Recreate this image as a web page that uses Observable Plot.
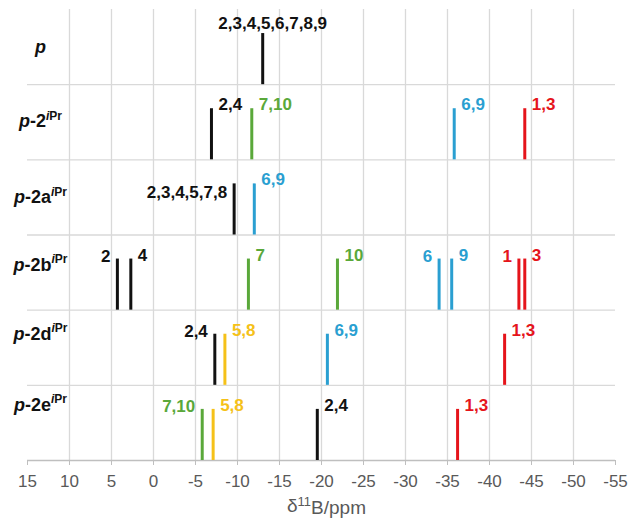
<!DOCTYPE html>
<html>
<head>
<meta charset="utf-8">
<script src="https://cdn.jsdelivr.net/npm/d3@7"></script>
<script src="https://cdn.jsdelivr.net/npm/@observablehq/plot@0.6"></script>
<style>
  body { margin: 0; background: #fff; }
  #chart svg { display: block; }
</style>
</head>
<body>
<div id="chart"></div>
<script>
// Rows (top to bottom)
const rows = ["p", "p-2", "p-2a", "p-2b", "p-2d", "p-2e"];

// Peaks
const peakRow   = [0, 1, 1, 1, 1, 2, 2, 3, 3, 3, 3, 3, 3, 3, 3, 4, 4, 4, 4, 5, 5, 5, 5];
const peakShift = [-13.0, -6.9, -11.7, -35.8, -44.2, -9.6, -12.0, 4.3, 2.7, -11.3, -21.9, -34.0, -35.5, -43.5, -44.2, -7.3, -8.5, -20.7, -41.8, -5.8, -7.1, -19.5, -36.2];
const peakLabel = ["2,3,4,5,6,7,8,9", "2,4", "7,10", "6,9", "1,3", "2,3,4,5,7,8", "6,9", "2", "4", "7", "10", "6", "9", "1", "3", "2,4", "5,8", "6,9", "1,3", "7,10", "5,8", "2,4", "1,3"];
const peakGroup = ["2,4", "2,4", "7,10", "6,9", "1,3", "2,4", "6,9", "2,4", "2,4", "7,10", "7,10", "6,9", "6,9", "1,3", "1,3", "2,4", "5,8", "6,9", "1,3", "7,10", "5,8", "2,4", "1,3"];
// label placement: C above centred, R right, L left, LB left and lower
const peakSide  = ["C", "R", "R", "R", "R", "LB", "R", "L", "R", "R", "R", "L", "R", "L", "R", "L", "R", "R", "R", "L", "R", "R", "R"];

// Colour groups
const groups = ["2,4", "7,10", "6,9", "1,3", "5,8"];
const groupColors = ["#111111", "#5aa83a", "#2a9fd1", "#e5141b", "#f5c118"];

// Axis ticks
const xTicks = [15, 10, 5, 0, -5, -10, -15, -20, -25, -30, -35, -40, -45, -50, -55];
const gridTicks = [10, 5, 0, -5, -10, -15, -20, -25, -30, -35, -40, -45, -50];
const rowBoundaries = [1, 2, 3, 4, 5];

// layout tweak: vertical nudge (px) of each row label
const rowLabelNudge = [6, 5, 6, -2, -8, -12];

const stickFrac = 0.68;

const peaks = peakRow.map((r, i) => ({
  row: r, shift: peakShift[i], label: peakLabel[i], group: peakGroup[i], side: peakSide[i]
}));

const labelFont = {fontSize: 17, fontWeight: "bold", fill: "group", letterSpacing: "0.9px"};

const chart = Plot.plot({
  width: 630,
  height: 521,
  marginLeft: 27,
  marginRight: 15,
  marginTop: 9,
  marginBottom: 61,
  style: {fontFamily: "'Liberation Sans', Arial, sans-serif", background: "white"},
  x: {domain: [15, -55], axis: null},
  y: {domain: [0, 6], reverse: true, axis: null},
  color: {domain: groups, range: groupColors},
  marks: [
    Plot.ruleX(gridTicks, {stroke: "#d9d9d9", strokeWidth: 1.3}),
    Plot.ruleY(rowBoundaries, {stroke: "#d9d9d9", strokeWidth: 1.3}),
    Plot.ruleY([6], {stroke: "#bfbfbf", strokeWidth: 1.3}),
    Plot.axisX({
      ticks: xTicks, tickSize: 5, tickPadding: 9,
      tickFormat: d => String(d), stroke: "#bfbfbf", fill: "#595959",
      fontSize: 17, label: null
    }),
    Plot.text(["axis"], {frameAnchor: "bottom", dx: 5, dy: 51, fontSize: 19, fill: "#595959",
      letterSpacing: "0.6px", text: () => "B/ppm", ariaLabel: () => "axis-title"}),
    Plot.ruleX(peaks, {
      x: "shift",
      y1: d => d.row + 1,
      y2: d => d.row + 1 - stickFrac,
      stroke: "group",
      strokeWidth: 3
    }),
    Plot.text(peaks.filter(d => d.side === "R"), {
      x: "shift", y: d => d.row + 1 - stickFrac, text: "label",
      textAnchor: "start", dx: 7, dy: -4, ...labelFont
    }),
    Plot.text(peaks.filter(d => d.side === "L"), {
      x: "shift", y: d => d.row + 1 - stickFrac, text: "label",
      textAnchor: "end", dx: -7, dy: -3, ...labelFont
    }),
    Plot.text(peaks.filter(d => d.side === "LB"), {
      x: "shift", y: d => d.row + 1 - stickFrac, text: "label",
      textAnchor: "end", dx: -7, dy: 9, ...labelFont
    }),
    Plot.text(peaks.filter(d => d.side === "C"), {
      x: "shift", y: d => d.row + 1 - stickFrac, text: "label",
      textAnchor: "middle", dx: 10, dy: -10, ...labelFont
    }),
    Plot.text(rows, {
      frameAnchor: "left", y: (d, i) => i + 0.5, text: d => d,
      dx: 13, dy: 0, textAnchor: "middle", fontSize: 18, fontWeight: "bold",
      fill: "#111111", ariaLabel: () => "row-label"
    })
  ]
});

document.getElementById("chart").appendChild(chart);

// Rich row labels: italic p, superscript iPr
d3.select(chart).selectAll('text[aria-label="row-label"]').each(function(_, i) {
  const name = rows[i];
  const t = d3.select(this);
  const y0 = +t.attr("y") || 0;
  if (t.attr("y") !== null) t.attr("y", y0 + rowLabelNudge[i]);
  else {
    const tr = t.attr("transform") || "";
    t.attr("transform", tr + ` translate(0,${rowLabelNudge[i]})`);
  }
  t.text(null);
  t.append("tspan").attr("font-style", "italic").text("p");
  if (name.length > 1) {
    t.append("tspan").text(name.slice(1));
    t.append("tspan").attr("dy", "-0.62em").attr("font-size", "12px").attr("font-style", "italic").text("i");
    t.append("tspan").attr("font-size", "12px").text("Pr");
  }
});

// Axis title with superscript: δ¹¹B/ppm
d3.select(chart).selectAll('text[aria-label="axis-title"]').each(function() {
  const t = d3.select(this);
  t.text(null);
  t.append("tspan").text("δ");
  t.append("tspan").attr("dy", "-0.45em").attr("font-size", "13px").text("11");
  t.append("tspan").attr("dy", "0.45em").text("B/ppm");
});
</script>
</body>
</html>
